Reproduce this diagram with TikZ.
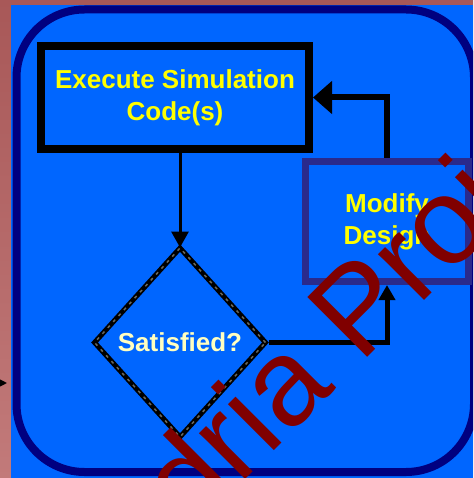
\documentclass[tikz,border=0pt]{standalone}
\usepackage{fontspec}
\setmainfont{Liberation Sans}
\usetikzlibrary{arrows.meta,shapes.geometric,calc}
\definecolor{mauveTop}{RGB}{168,88,88}
\definecolor{mauveBot}{RGB}{194,122,122}
\definecolor{bgblue}{RGB}{0,102,255}
\definecolor{navyline}{RGB}{0,0,128}
\definecolor{slateline}{RGB}{42,42,140}
\definecolor{labelyellow}{RGB}{255,255,0}
\definecolor{labelcream}{RGB}{255,255,192}
\definecolor{markred}{RGB}{128,0,0}
\definecolor{dashgray}{RGB}{105,105,95}
\begin{document}
\begin{tikzpicture}[x=1pt,y=-1pt,
  labelfont/.style={font=\bfseries\fontsize{26}{32}\selectfont},
  procbox/.style={draw=black, line width=8pt, rectangle, inner sep=0pt,
     align=center, labelfont, text=labelyellow},
  modbox/.style={draw=slateline, line width=7pt, rectangle, inner sep=0pt,
     align=center, labelfont, text=labelyellow},
  decbox/.style={diamond, draw=black, line width=5pt, inner sep=0pt,
     labelfont, text=labelcream,
     postaction={draw=dashgray, line width=1.5pt, dash pattern=on 3pt off 5pt}},
  flow/.style={draw=black}
]
\clip (0,0) rectangle (473,478);
% background
\shade[top color=mauveTop, bottom color=mauveBot] (0,0) rectangle (473,478);
\fill[bgblue] (11,5) rectangle (473,478);
\draw[navyline, line width=8pt, rounded corners=68pt] (16.5,9.5) rectangle (474,472);

% nodes
\node[procbox, minimum width=268pt, minimum height=103pt] (exec) at (175,97.5)
  {Execute Simulation\\Code(s)};
\node[decbox, minimum width=173pt, minimum height=191pt] (dec) at (180,342.5)
  {Satisfied?};
\node[modbox, minimum width=163pt, minimum height=120pt] (mod) at (387,221.5)
  {Modify\\Design};

% connectors
\draw[flow, line width=3pt, -{Triangle[length=16pt,width=17pt]}]
  (dec.north |- exec.south) -- ($(dec.north)+(0,3)$);
\draw[flow, line width=6pt, -{Triangle[length=19pt,width=32pt]}]
  (mod.north) |- (exec.east);
\draw[flow, line width=5pt, -{Triangle[length=15pt,width=16pt]}]
  (dec.east) -| (mod.south);

% partial arrow at the left edge
\coordinate (leftStart) at (-14,383);
\coordinate (leftTip) at (7,383);
\draw[flow, line width=2pt, -{Triangle[length=14pt,width=14pt]}] (leftStart) -- (leftTip);

% watermark
\node[rotate=45, anchor=base west, inner sep=0pt, text=markred,
      font=\fontsize{123}{123}\selectfont] (mark) at (360.5,364.5)
  {\llap{dria }Proj};
\end{tikzpicture}
\end{document}
